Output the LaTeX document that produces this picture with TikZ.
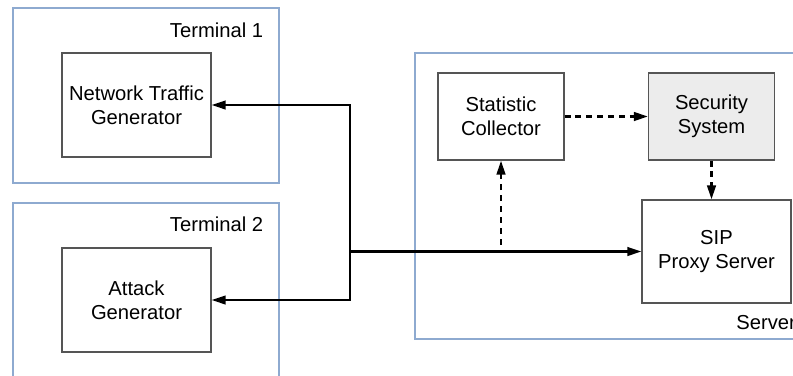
\documentclass[tikz,border=0pt]{standalone}
\usepackage{fontspec}
\setmainfont{Liberation Sans}
\usepackage{xcolor}
\usetikzlibrary{arrows.meta,calc}
\definecolor{framecol}{RGB}{142,170,208}
\definecolor{boxcol}{RGB}{85,85,85}
\definecolor{shadecol}{RGB}{236,236,236}

\begin{document}
\begin{tikzpicture}[
  frame/.style={draw=framecol, line width=0.6pt},
  box/.style={draw=boxcol, line width=0.6pt, align=center, inner sep=2pt,
    font=\fontsize{11.5}{13.6}\selectfont},
  lbl/.style={inner sep=0pt, font=\fontsize{11.5}{13.6}\selectfont},
  arr/.style={-{Triangle[length=2.8mm,width=1.7mm]}, line width=1.3pt},
  dasharr/.style={arr, line width=1.5pt, dash pattern=on 3.4pt off 2.8pt}
]
\useasboundingbox (0,0) rectangle (15.86,-7.5);
\clip (0,0) rectangle (15.86,-7.5);

% terminals and server frames
\draw[frame] (0.26,-0.16) rectangle (5.58,-3.66);
\draw[frame] (0.26,-4.06) rectangle (5.58,-8.0);
\draw[frame] (8.30,-1.06) rectangle (16.4,-6.78);
\node[lbl, anchor=north east] (t1) at (5.27,-0.45) {Terminal 1};
\node[lbl, anchor=north east] (t2) at (5.27,-4.33) {Terminal 2};
\node[lbl, anchor=north west] (srv) at (14.72,-6.30) {Server};

% components
\node[box, minimum width=2.98cm, minimum height=2.08cm]
  (ntg) at (2.73,-2.10) {Network Traffic\\Generator};
\node[box, minimum width=2.98cm, minimum height=2.08cm]
  (ag) at (2.73,-6.00) {Attack\\Generator};
\node[box, minimum width=2.52cm, minimum height=1.74cm]
  (sc) at (10.02,-2.33) {Statistic\\Collector};
\node[box, fill=shadecol, minimum width=2.52cm, minimum height=1.74cm]
  (ss) at (14.23,-2.33) {Security\\System};
\node[box, minimum width=2.98cm, minimum height=2.06cm]
  (sip) at (14.33,-5.03) {SIP\\Proxy Server};

% traffic lines
\coordinate (hub) at (7.0,-5.03);
\coordinate (tap) at ($(sc.south |- hub)+(0,0.14)$);
\draw[arr] (hub) -- (sip.west);
\draw[arr] (hub) |- (ntg.east);
\draw[arr] (hub) |- (ag.east);

% monitoring
\draw[dasharr] (tap) -- (sc.south);
\draw[dasharr] (sc.east) -- (ss.west);
\draw[dasharr] (ss.south) -- (ss.south |- sip.north);
\end{tikzpicture}
\end{document}
